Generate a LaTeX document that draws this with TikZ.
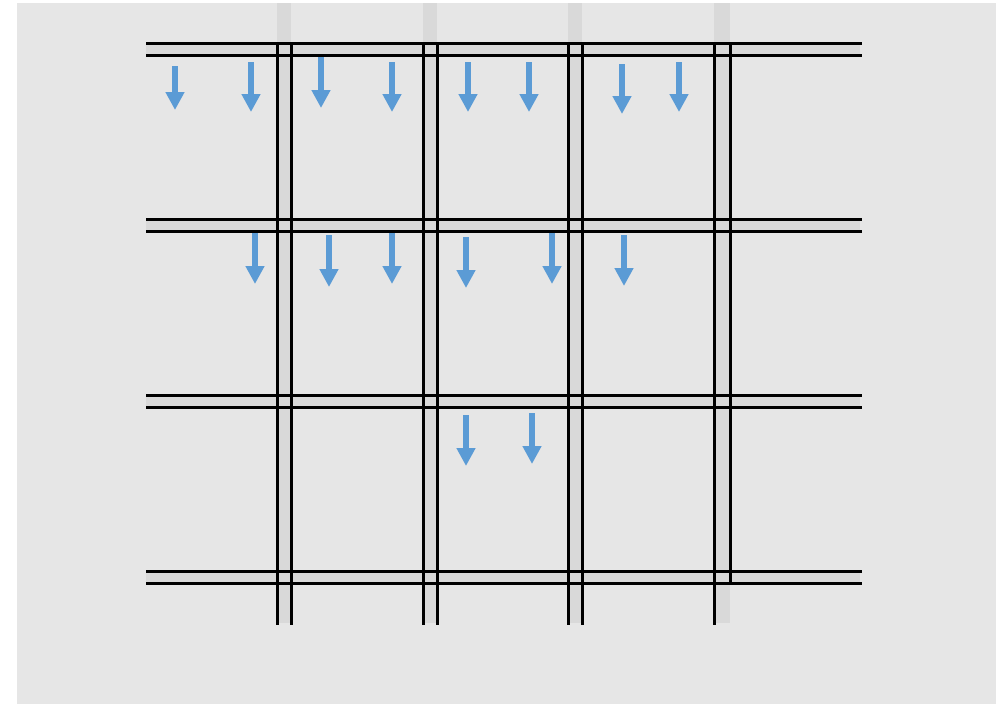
\documentclass[tikz,border=0pt]{standalone}
\usetikzlibrary{arrows.meta}
\definecolor{bggray}{HTML}{E6E6E6}
\definecolor{stripgray}{HTML}{D9D9D9}
\definecolor{flowblue}{HTML}{5B9BD5}
\tikzset{
  rail/.style={draw=black,line width=3pt},
  strip/.style={fill=stripgray},
  flow/.style={-{Triangle[length=18pt,width=18pt]},draw=flowblue,line width=6pt}
}
\begin{document}
\begin{tikzpicture}[x=1pt,y=-1pt]
\path[use as bounding box] (0,0) rectangle (996,704);
\fill[bggray] (17,3) rectangle (996,704);
% strips between rails
\foreach \y in {43,219,395,571}{
\fill[strip] (146,\y) rectangle (860,\y+12);
}
\foreach \x/\w in {277/14,423/14,568/14,714/16}{
\fill[strip] (\x,3) rectangle (\x+\w,623);
}
% rails
\foreach \y in {43,55,219,231,395,407,571,583}{
\draw[rail] (146,\y) -- (862,\y);
}
\foreach \x in {277,291,423,437,568,582,714}{
\draw[rail] (\x,43) -- (\x,625);
}
\draw[rail] (730,43) -- (730,583);
% flow arrows
\foreach \n/\x/\t/\b in {1/175/66/110,2/251/62/112,3/321/57/108,4/392/62/112,5/468/62/112,6/529/62/112,7/622/64/114,8/679/62/112,
9/255/233/284,10/329/235/287,11/392/233/284,12/466/237/288,13/552/233/284,14/624/235/286,
15/466/415/466,16/532/413/464}{
\coordinate (f\n top) at (\x,\t);
\coordinate (f\n tip) at (\x,\b);
\draw[flow] (f\n top) -- (f\n tip);
}
\end{tikzpicture}
\end{document}
